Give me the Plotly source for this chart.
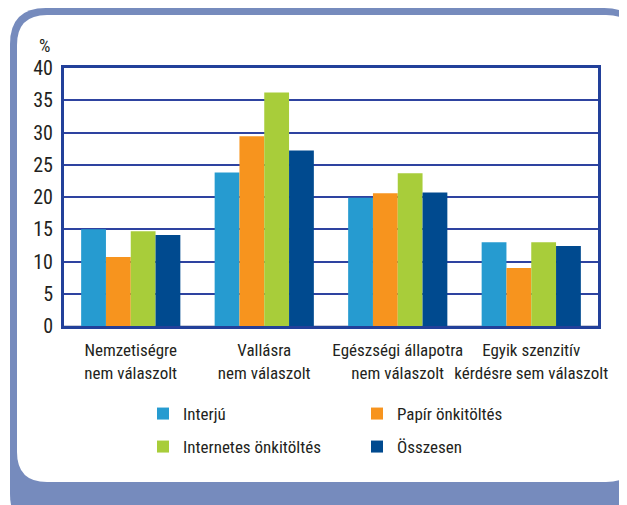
import plotly.graph_objects as go

categories = ["Nemzetiségre<br>nem válaszolt", "Vallásra<br>nem válaszolt",
              "Egészségi állapotra<br>nem válaszolt", "Egyik szenzitív<br>kérdésre sem válaszolt"]
series_names = ["Interjú", "Papír önkitöltés", "Internetes önkitöltés", "Összesen"]
interju = [15.0, 23.8, 19.9, 13.0]
papir = [10.7, 29.4, 20.6, 9.0]
internetes = [14.7, 36.2, 23.7, 13.0]
osszesen = [14.1, 27.2, 20.7, 12.4]
y_ticks = [0, 5, 10, 15, 20, 25, 30, 35, 40]

colors = ["#269bd0", "#f7941e", "#a8cd3a", "#004a8f"]
FONT = "Liberation Sans Narrow, Roboto Condensed, DejaVu Sans Condensed, sans-serif"
TXT = "#231f20"

# page body has an 8px default margin; work in page pixel coordinates
OFF = 8
W, H = 627 - OFF, 505 - OFF
PL, PR, PT, PB = 64, 598, 68, 326          # plot area in page pixels
L, T = PL - OFF, PT - OFF
R, B = W - (PR - OFF), H - (PB - OFF)
PW, PH = PR - PL, PB - PT


def px(x):
    return (x - PL) / PW


def py(y):
    return (PB - y) / PH


def rrect(x0, y0, x1, y1, r):
    pts = [
        ("M", [(x0 + r, y0)]),
        ("L", [(x1 - r, y0)]),
        ("Q", [(x1, y0), (x1, y0 + r)]),
        ("L", [(x1, y1 - r)]),
        ("Q", [(x1, y1), (x1 - r, y1)]),
        ("L", [(x0 + r, y1)]),
        ("Q", [(x0, y1), (x0, y1 - r)]),
        ("L", [(x0, y0 + r)]),
        ("Q", [(x0, y0), (x0 + r, y0)]),
    ]
    s = ""
    for cmd, ps in pts:
        s += cmd + " ".join(f"{px(a):.5f},{py(b):.5f}" for a, b in ps) + " "
    return s + "Z"


fig = go.Figure()
legends = ["legend", "legend", "legend2", "legend2"]
for name, vals, col, lg in zip(series_names, [interju, papir, internetes, osszesen], colors, legends):
    fig.add_trace(go.Bar(x=categories, y=vals, name=name, marker_color=col,
                         marker_line_width=0, legend=lg))

leg_common = dict(orientation="h", xanchor="left", yanchor="top",
                  entrywidth=169, entrywidthmode="pixels", font=dict(size=17, color=TXT),
                  bgcolor="rgba(0,0,0,0)")

fig.update_layout(
    width=W, height=H,
    margin=dict(l=L, r=R, t=T, b=B, autoexpand=False),
    paper_bgcolor="white", plot_bgcolor="white",
    barmode="group", bargap=0.257, bargroupgap=0,
    font=dict(family=FONT, color=TXT, size=17),
    showlegend=True,
    legend=dict(x=px(143), y=py(396), **leg_common),
    legend2=dict(x=px(143), y=py(429), **leg_common),
    shapes=[
        dict(type="path", xref="paper", yref="paper", path=rrect(10, 8, 640, 530, 36),
             fillcolor="#768bbd", line=dict(width=0), layer="below"),
        dict(type="path", xref="paper", yref="paper", path=rrect(17, 15, 636, 482, 30),
             fillcolor="white", line=dict(width=0), layer="below"),
    ],
    annotations=[
        dict(text="%", xref="paper", yref="paper", x=px(44), y=py(45), showarrow=False,
             font=dict(size=18, color=TXT), xanchor="center", yanchor="middle"),
    ],
)

fig.update_yaxes(range=[0, 40], tickvals=y_ticks, ticks="", showgrid=True, automargin=False,
                 gridcolor="#2e43a0", gridwidth=2, zeroline=True, zerolinecolor="#c9cdd9",
                 zerolinewidth=2, showline=True, mirror=True, linecolor="#22409a", linewidth=3,
                 tickfont=dict(size=20, color=TXT), ticklabelstandoff=4)
fig.update_xaxes(ticks="", showline=True, mirror=True, linecolor="#22409a", linewidth=3,
                 tickangle=0, automargin=False, ticklabelstandoff=7,
                 tickfont=dict(size=17, color=TXT))

fig.write_html("out.html")
